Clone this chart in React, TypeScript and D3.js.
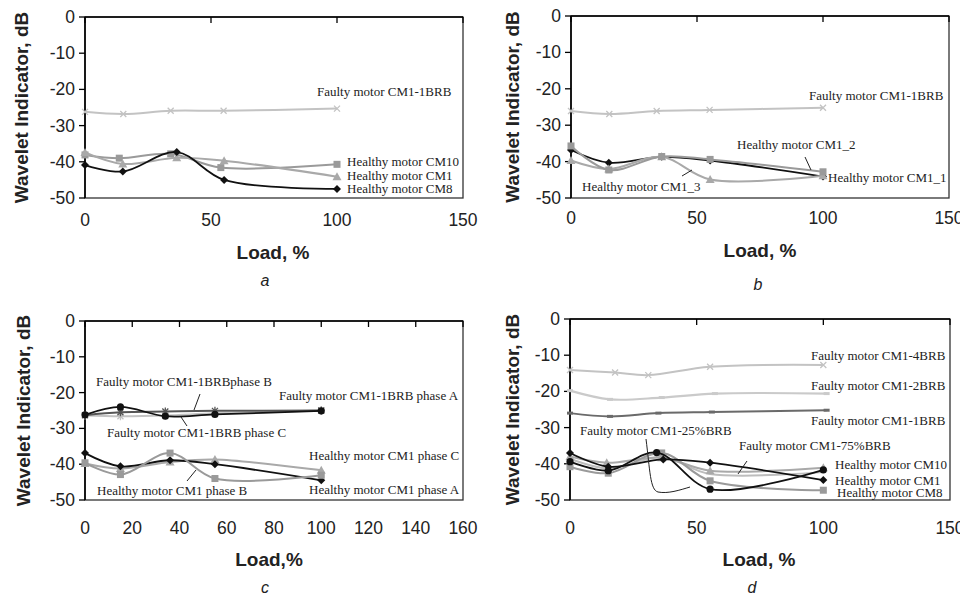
import React from 'react';
import * as d3 from 'd3';

type Pt = [number, number];

const yTicks = [0, -10, -20, -30, -40, -50];
const xTicks150 = [0, 50, 100, 150];
const xTicks160 = [0, 20, 40, 60, 80, 100, 120, 140, 160];

// panel a
const aFaulty1BRB: Pt[] = [[0, -26.2], [15.2, -26.8], [34, -25.9], [55, -25.9], [100, -25.3]];
const aCM10: Pt[] = [[0, -38.1], [13.6, -39.0], [34, -37.8], [53.9, -41.6], [100, -40.7]];
const aCM1: Pt[] = [[0, -37.4], [15, -40.6], [36.4, -38.9], [55.2, -39.7], [100, -44.1]];
const aCM8: Pt[] = [[0, -40.9], [15, -42.7], [36.4, -37.3], [55.2, -45.0], [100, -47.5]];

// panel b
const bFaulty1BRB: Pt[] = [[0, -26.1], [15.2, -26.9], [34, -26.1], [55, -25.8], [100, -25.2]];
const bCM1_1: Pt[] = [[0, -36.8], [15, -40.3], [36, -38.7], [55.2, -39.7], [100, -44.1]];
const bCM1_2: Pt[] = [[0, -35.7], [15, -42.3], [36, -38.6], [55.2, -39.4], [100, -42.8]];
const bCM1_3: Pt[] = [[0, -39.7], [15, -42.0], [36, -38.7], [55.2, -44.9], [100, -43.9]];

// panel c
const cFaultyA: Pt[] = [[0, -26.2], [15, -24.0], [34, -26.6], [55, -26.1], [100, -25.1]];
const cFaultyB: Pt[] = [[0, -26.3], [15, -25.5], [34, -25.3], [55, -25.1], [100, -25.0]];
const cFaultyC: Pt[] = [[0, -26.4], [15, -26.6], [34, -26.4], [55, -25.8], [100, -25.0]];
const cHealthyA: Pt[] = [[0, -36.9], [15, -40.6], [36, -38.9], [55, -40.0], [100, -44.5]];
const cHealthyB: Pt[] = [[0, -39.6], [15, -42.9], [36, -36.9], [55, -44.0], [100, -43.1]];
const cHealthyC: Pt[] = [[0, -39.8], [15, -41.2], [36, -39.4], [55, -38.7], [100, -41.7]];

// panel d
const d4BRB: Pt[] = [[0, -14.1], [17.8, -14.8], [30.9, -15.5], [55.3, -13.2], [100, -12.7]];
const d2BRB: Pt[] = [[0, -19.8], [15.8, -22.2], [36.2, -21.7], [57.2, -20.6], [101.3, -20.6]];
const d1BRB: Pt[] = [[0, -26.0], [15.8, -26.9], [34.9, -26.0], [56, -25.7], [101.3, -25.2]];
const d25BRB: Pt[] = [[0, -39.4], [15.1, -41.9], [34.2, -36.9], [55.3, -47.0], [100, -41.7]];
const d75BRB: Pt[] = [[0, -38.6], [15.1, -41.3], [36.2, -38.2], [55.3, -42.8], [100, -42.3]];
const dCM10: Pt[] = [[0, -38.0], [14.5, -39.7], [36.2, -38.3], [55.3, -41.9], [100, -41.1]];
const dCM1: Pt[] = [[0, -37.0], [15.1, -40.8], [36.8, -38.8], [55.3, -39.7], [100, -44.5]];
const dCM8: Pt[] = [[0, -40.8], [15.1, -42.6], [36.2, -37.0], [55.3, -44.7], [100, -47.3]];

const BLACK = '#111';
const DARK = '#6a6a6a';
const MID = '#9a9a9a';
const MID2 = '#a9a9a9';
const LIGHT = '#c3c3c3';

type Series = { data: Pt[]; color: string; marker: string; width?: number };
type Note = { text: string; x: number; y: number };

function Marker({ type, x, y, color }: { type: string; x: number; y: number; color: string }) {
  if (type === 'square') return <rect x={x - 3.5} y={y - 3.5} width={7} height={7} fill={color} />;
  if (type === 'triangle') return <path d={`M${x},${y - 4.5}L${x + 4.5},${y + 3.5}L${x - 4.5},${y + 3.5}Z`} fill={color} />;
  if (type === 'diamond') return <path d={`M${x},${y - 4}L${x + 4},${y}L${x},${y + 4}L${x - 4},${y}Z`} fill={color} />;
  if (type === 'circle') return <circle cx={x} cy={y} r={3.6} fill={color} />;
  if (type === 'x')
    return <path d={`M${x - 3},${y - 3}L${x + 3},${y + 3}M${x - 3},${y + 3}L${x + 3},${y - 3}`} stroke={color} strokeWidth={1.3} />;
  if (type === 'star')
    return (
      <path
        d={`M${x - 3},${y - 3}L${x + 3},${y + 3}M${x - 3},${y + 3}L${x + 3},${y - 3}M${x},${y - 4}L${x},${y + 4}`}
        stroke={color}
        strokeWidth={1.3}
      />
    );
  if (type === 'dash') return <path d={`M${x - 3},${y}L${x + 3},${y}`} stroke={color} strokeWidth={3} />;
  return null;
}

type PanelProps = {
  box: { l: number; r: number; t: number; b: number };
  xMax: number;
  xTicks: number[];
  series: Series[];
  notes: Note[];
  leaders: string[];
  xLabel: string;
  caption: string;
  titleX: number;
  tickY: number;
  xLabelPos: [number, number];
  capPos: [number, number];
};

function Panel(p: PanelProps) {
  const { box } = p;
  const x = d3.scaleLinear().domain([0, p.xMax]).range([box.l, box.r]);
  const y = d3.scaleLinear().domain([-50, 0]).range([box.b, box.t]);
  const line = d3
    .line<Pt>()
    .x((d) => x(d[0]))
    .y((d) => y(d[1]))
    .curve(d3.curveCatmullRom.alpha(0.5));
  const midY = (box.t + box.b) / 2;
  return (
    <g>
      <rect x={box.l} y={box.t} width={box.r - box.l} height={box.b - box.t} fill="none" stroke="#333" strokeWidth={1.3} />
      <line x1={box.l} x2={box.l} y1={box.t} y2={box.b} stroke="#000" strokeWidth={1.6} />
      <line x1={box.l} x2={box.r} y1={box.t} y2={box.t} stroke="#000" strokeWidth={1.6} />
      {yTicks.map((t) => (
        <g key={t}>
          <line x1={box.l - 6} x2={box.l} y1={y(t)} y2={y(t)} stroke="#000" strokeWidth={1.3} />
          <text x={box.l - 10} y={y(t)} textAnchor="end" dominantBaseline="central" fontSize={17.5} fill="#222">
            {t}
          </text>
        </g>
      ))}
      {p.xTicks.map((t) => (
        <g key={t}>
          <line x1={x(t)} x2={x(t)} y1={box.t} y2={box.t + 6} stroke="#000" strokeWidth={1.3} />
          <text x={x(t)} y={p.tickY} textAnchor="middle" dominantBaseline="central" fontSize={17.5} fill="#222">
            {t}
          </text>
        </g>
      ))}
      <text
        transform={`translate(${p.titleX},${midY}) rotate(-90)`}
        textAnchor="middle"
        dominantBaseline="central"
        fontSize={19}
        fontWeight="bold"
        fill="#222"
      >
        Wavelet Indicator, dB
      </text>
      <text x={p.xLabelPos[0]} y={p.xLabelPos[1]} textAnchor="middle" dominantBaseline="central" fontSize={19} fontWeight="bold" fill="#222">
        {p.xLabel}
      </text>
      <text x={p.capPos[0]} y={p.capPos[1]} textAnchor="middle" dominantBaseline="central" fontSize={16} fontStyle="italic" fill="#222">
        {p.caption}
      </text>
      {p.series.map((s, i) => (
        <g key={i}>
          <path d={line(s.data) || ''} fill="none" stroke={s.color} strokeWidth={s.width ?? 2} />
          {s.data.map((d, j) => (
            <Marker key={j} type={s.marker} x={x(d[0])} y={y(d[1])} color={s.color} />
          ))}
        </g>
      ))}
      {p.leaders.map((d, i) => (
        <path key={i} d={d} fill="none" stroke="#222" strokeWidth={1} />
      ))}
      {p.notes.map((n, i) => (
        <text key={i} x={n.x} y={n.y} fontFamily="'Liberation Serif', 'Times New Roman', serif" fontSize={13} fill="#222">
          {n.text}
        </text>
      ))}
    </g>
  );
}

export default function App() {
  return (
    <svg width={960} height={596} style={{ position: 'absolute', left: 0, top: 0, background: '#fff' }} fontFamily="'Liberation Sans', Arial, sans-serif">
      <rect width={960} height={596} fill="#fff" />
      <Panel
        box={{ l: 85, r: 463, t: 17, b: 198 }}
        xMax={150}
        xTicks={xTicks150}
        series={[
          { data: aFaulty1BRB, color: LIGHT, marker: 'x' },
          { data: aCM10, color: MID, marker: 'square' },
          { data: aCM1, color: MID2, marker: 'triangle' },
          { data: aCM8, color: BLACK, marker: 'diamond', width: 1.8 },
        ]}
        notes={[
          { text: 'Faulty motor CM1-1BRB', x: 317, y: 96 },
          { text: 'Healthy motor CM10', x: 347, y: 166 },
          { text: 'Healthy motor CM1', x: 347, y: 180 },
          { text: 'Healthy motor CM8', x: 347, y: 193 },
        ]}
        leaders={[]}
        xLabel="Load, %"
        caption="a"
        titleX={21}
        tickY={220}
        xLabelPos={[273, 252]}
        capPos={[265, 280]}
      />
      <Panel
        box={{ l: 571, r: 949, t: 16, b: 198 }}
        xMax={150}
        xTicks={xTicks150}
        series={[
          { data: bFaulty1BRB, color: LIGHT, marker: 'x' },
          { data: bCM1_1, color: BLACK, marker: 'diamond', width: 1.8 },
          { data: bCM1_3, color: MID2, marker: 'triangle' },
          { data: bCM1_2, color: MID, marker: 'square' },
        ]}
        notes={[
          { text: 'Faulty motor CM1-1BRB', x: 809, y: 100 },
          { text: 'Healthy motor CM1_2', x: 737, y: 149 },
          { text: 'Healthy motor CM1_1', x: 828, y: 182 },
          { text: 'Healthy motor CM1_3', x: 582, y: 191 },
        ]}
        leaders={['M805,157L811,170', 'M682,176L692,170']}
        xLabel="Load, %"
        caption="b"
        titleX={512}
        tickY={218}
        xLabelPos={[760, 250]}
        capPos={[758, 284]}
      />
      <Panel
        box={{ l: 85, r: 463, t: 321, b: 500 }}
        xMax={160}
        xTicks={xTicks160}
        series={[
          { data: cFaultyC, color: LIGHT, marker: 'star' },
          { data: cFaultyB, color: '#555', marker: 'star' },
          { data: cFaultyA, color: BLACK, marker: 'circle', width: 1.8 },
          { data: cHealthyC, color: MID2, marker: 'triangle' },
          { data: cHealthyA, color: BLACK, marker: 'diamond', width: 1.8 },
          { data: cHealthyB, color: MID, marker: 'square' },
        ]}
        notes={[
          { text: 'Faulty motor CM1-1BRBphase B', x: 96, y: 386 },
          { text: 'Faulty motor CM1-1BRB phase A', x: 279, y: 400 },
          { text: 'Faulty motor CM1-1BRB phase C', x: 107, y: 437 },
          { text: 'Healthy motor CM1 phase C', x: 309, y: 460 },
          { text: 'Healthy motor CM1 phase A', x: 309, y: 494 },
          { text: 'Healthy motor CM1 phase B', x: 97, y: 495 },
        ]}
        leaders={['M200,394L194,410', 'M187,426L181,417', 'M187,481L196,470']}
        xLabel="Load,%"
        caption="c"
        titleX={23}
        tickY={528}
        xLabelPos={[269, 559]}
        capPos={[265, 587]}
      />
      <Panel
        box={{ l: 570, r: 950, t: 319, b: 500 }}
        xMax={150}
        xTicks={xTicks150}
        series={[
          { data: d4BRB, color: LIGHT, marker: 'x' },
          { data: d2BRB, color: '#cacaca', marker: 'dash', width: 2.2 },
          { data: d1BRB, color: DARK, marker: 'dash' },
          { data: d75BRB, color: '#bdbdbd', marker: 'none' },
          { data: dCM10, color: MID2, marker: 'triangle' },
          { data: dCM8, color: MID, marker: 'square' },
          { data: dCM1, color: BLACK, marker: 'diamond', width: 1.8 },
          { data: d25BRB, color: BLACK, marker: 'circle', width: 1.8 },
        ]}
        notes={[
          { text: 'Faulty motor CM1-4BRB', x: 811, y: 360 },
          { text: 'Faulty motor CM1-2BRB', x: 811, y: 390 },
          { text: 'Faulty motor CM1-1BRB', x: 811, y: 425 },
          { text: 'Faulty motor CM1-25%BRB', x: 580, y: 435 },
          { text: 'Faulty motor CM1-75%BRB', x: 739, y: 450 },
          { text: 'Healthy motor CM10', x: 835, y: 469 },
          { text: 'Healthy motor CM1', x: 835, y: 485 },
          { text: 'Healthy motor CM8', x: 837, y: 497 },
        ]}
        leaders={['M646,439C650,470 650,490 658,492C668,494 680,490 690,487', 'M747,461L738,474']}
        xLabel="Load, %"
        caption="d"
        titleX={512}
        tickY={528}
        xLabelPos={[759, 559]}
        capPos={[752, 587]}
      />
    </svg>
  );
}
